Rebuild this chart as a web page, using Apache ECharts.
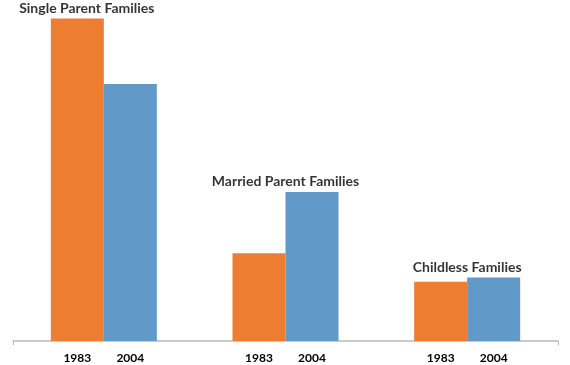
<!DOCTYPE html>
<html><head><meta charset="utf-8">
<script src="https://cdn.jsdelivr.net/npm/echarts@6/dist/echarts.min.js"></script>
<style>html,body{margin:0;padding:0;background:#fff}#c{width:570px;height:365px}</style>
</head><body><div id="c"></div>
<script>
const groups = ['Single Parent Families', 'Married Parent Families', 'Childless Families'];
const seriesNames = ['1983', '2004'];
const values1983 = [94.6, 25.7, 17.4];
const values2004 = [75.4, 43.7, 18.6];
const colors = ['#ED7D31', '#6199C9'];

const groupTop = groups.map((g, i) => Math.max(values1983[i], values2004[i]));
const font = 'Lato, "Noto Sans", sans-serif';

const chart = echarts.init(document.getElementById('c'), null, {renderer: 'canvas'});
const yearLabel = {
  show: true, position: 'bottom', distance: 11, formatter: '{a}',
  color: '#000', fontFamily: font, fontWeight: 'bold', fontSize: 12
};
chart.setOption({
  animation: false,
  grid: {left: 13, right: 12, top: 0, bottom: 24, containLabel: false},
  xAxis: {
    type: 'category', data: groups,
    axisLine: {lineStyle: {color: '#BBBBBB', width: 1.5}},
    axisTick: {show: true, length: 4, interval: i => i === 0, lineStyle: {color: '#BBBBBB'}},
    axisLabel: {show: false}
  },
  yAxis: {type: 'value', min: 0, max: 100, show: false},
  series: [
    {name: seriesNames[0], type: 'bar', data: values1983, barWidth: 53, barGap: '0%',
     itemStyle: {color: colors[0]}, label: yearLabel},
    {name: seriesNames[1], type: 'bar', data: values2004, barWidth: 53, barGap: '0%',
     itemStyle: {color: colors[1]}, label: yearLabel},
    {name: 'groups', type: 'scatter', symbolSize: 0, silent: true,
     data: groupTop.map((v, i) => ({value: v, label: i === 0 ? {offset: [-17, 0]} : {}})),
     label: {show: true, position: 'top', distance: 3, formatter: p => groups[p.dataIndex],
       color: '#000', fontFamily: font, fontWeight: 'bold', fontSize: 14}}
  ]
});
</script></body></html>
